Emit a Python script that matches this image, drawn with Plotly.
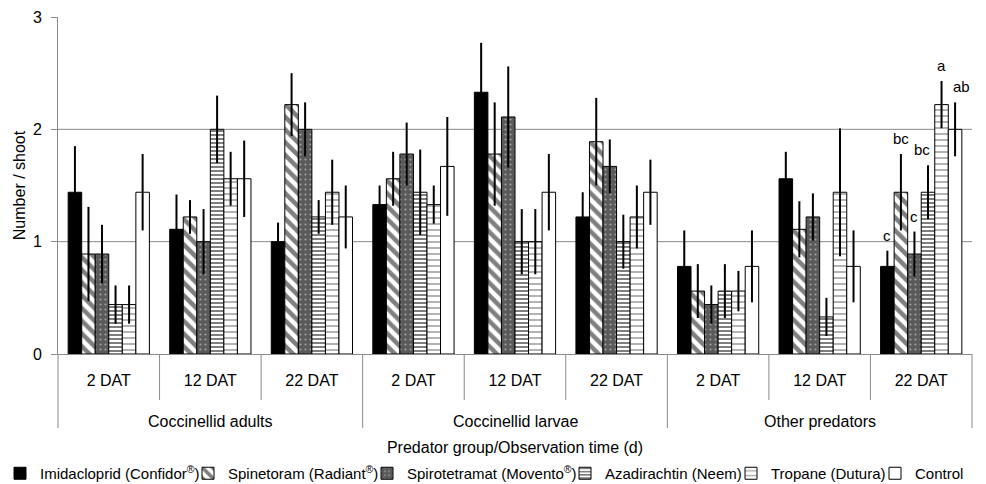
import plotly.graph_objects as go

# ---------------- data ----------------
groups = ["Coccinellid adults", "Coccinellid larvae", "Other predators"]
times = ["2 DAT", "12 DAT", "22 DAT"]

series_names = [
    "Imidacloprid (Confidor<sup>®</sup>)",
    "Spinetoram (Radiant<sup>®</sup>)",
    "Spirotetramat (Movento<sup>®</sup>)",
    "Azadirachtin (Neem)",
    "Tropane (Dutura)",
    "Control",
]

imidacloprid = [1.44, 1.11, 1.00, 1.33, 2.33, 1.22, 0.78, 1.56, 0.78]
spinetoram = [0.89, 1.22, 2.22, 1.56, 1.78, 1.89, 0.56, 1.11, 1.44]
spirotetramat = [0.89, 1.00, 2.00, 1.78, 2.11, 1.67, 0.44, 1.22, 0.89]
azadirachtin = [0.44, 2.00, 1.22, 1.44, 1.00, 1.00, 0.56, 0.33, 1.44]
tropane = [0.44, 1.56, 1.44, 1.33, 1.00, 1.22, 0.56, 1.44, 2.22]
control = [1.44, 1.56, 1.22, 1.67, 1.44, 1.44, 0.78, 0.78, 2.00]

imidacloprid_err = [0.41, 0.31, 0.17, 0.17, 0.44, 0.22, 0.32, 0.24, 0.14]
spinetoram_err = [0.42, 0.15, 0.28, 0.24, 0.46, 0.39, 0.24, 0.25, 0.34]
spirotetramat_err = [0.26, 0.29, 0.24, 0.28, 0.45, 0.24, 0.17, 0.21, 0.20]
azadirachtin_err = [0.17, 0.30, 0.15, 0.38, 0.29, 0.24, 0.24, 0.17, 0.24]
tropane_err = [0.17, 0.24, 0.29, 0.17, 0.29, 0.28, 0.18, 0.57, 0.21]
control_err = [0.34, 0.34, 0.28, 0.44, 0.34, 0.29, 0.32, 0.32, 0.24]

# significance letters for "Other predators / 22 DAT"
letters_group = ("Other predators", "22 DAT")
letters = ["c", "bc", "c", "bc", "a", "ab"]

y_ticks = [0, 1, 2, 3]

# ---------------- styling ----------------
FONT = "Liberation Sans, Arial, sans-serif"
GRAY = "#8a8a8a"

means = [imidacloprid, spinetoram, spirotetramat, azadirachtin, tropane, control]
errs = [imidacloprid_err, spinetoram_err, spirotetramat_err, azadirachtin_err, tropane_err, control_err]

styles = [
    dict(color="black", pattern=dict(shape="")),
    dict(color="white", pattern=dict(shape="\\", fgcolor="black", bgcolor="white", size=9, solidity=0.5)),
    dict(color="#5a5a5a", pattern=dict(shape=".", fgcolor="#e6e6e6", bgcolor="#5a5a5a", size=5, solidity=0.15)),
    dict(color="white", pattern=dict(shape="-", fgcolor="black", bgcolor="white", size=4, solidity=0.5)),
    dict(color="white", pattern=dict(shape="-", fgcolor="#555555", bgcolor="white", size=6, solidity=0.3)),
    dict(color="white", pattern=dict(shape="")),
]
legend_widths = [143, 134, 153, 121, 99, 50]
letter_xshift = [0, 0, 0, -6, 0, 6]

# category positions
cats = [(g, t) for g in groups for t in times]
xpos = list(range(len(cats)))
ticktext = [t for g, t in cats]

fig = go.Figure()
for name, m, e, st, lw in zip(series_names, means, errs, styles, legend_widths):
    fig.add_trace(go.Bar(
        x=xpos, y=m, name=name,
        marker=dict(color=st["color"], pattern=st["pattern"], line=dict(color="black", width=1)),
        error_y=dict(type="data", array=e, color="black", thickness=2, width=0),
        legendwidth=lw,
    ))

# significance letters
n_series = len(series_names)
bargap = 0.2
bw = (1 - bargap) / n_series
gx = cats.index(letters_group)
for k, lab in enumerate(letters):
    fig.add_annotation(
        x=gx + (k - (n_series - 1) / 2) * bw, y=means[k][gx] + errs[k][gx],
        text=lab, showarrow=False, yanchor="bottom", yshift=5, xshift=letter_xshift[k],
        font=dict(family=FONT, size=15, color="black"),
    )

# gridlines at 1 and 2
for yv in y_ticks[1:-1]:
    fig.add_shape(type="line", xref="paper", yref="y", x0=0, x1=1, y0=yv, y1=yv,
                  line=dict(color=GRAY, width=1), layer="below")

# category dividers below axis
plot_h = 484 - 17 - 130
plot_w = 986 - 58 - 14
n = len(cats)
for k in range(n + 1):
    outer = (k % len(times) == 0)
    depth = (428 - 354) / plot_h if outer else (400 - 354) / plot_h
    fig.add_shape(type="line", xref="paper", yref="paper", x0=k / n, x1=k / n, y0=0, y1=-depth,
                  line=dict(color=GRAY, width=1))

# outer group labels
for gi, g in enumerate(groups):
    fig.add_annotation(
        x=gi * len(times) + (len(times) - 1) / 2, xref="x", y=-(421 - 354) / plot_h, yref="paper",
        text=g, showarrow=False, yanchor="middle",
        font=dict(family=FONT, size=16, color="black"),
    )

fig.update_layout(
    width=986, height=484,
    margin=dict(l=58, r=14, t=17, b=130, autoexpand=False),
    paper_bgcolor="white", plot_bgcolor="white",
    barmode="group", bargap=bargap, bargroupgap=0,
    font=dict(family=FONT, size=16, color="black"),
    showlegend=True,
    legend=dict(
        orientation="h", x=-(58 - 0) / plot_w, xanchor="left", y=-(457 - 354) / plot_h, yanchor="top",
        font=dict(family=FONT, size=15, color="black"), bgcolor="rgba(0,0,0,0)",
        itemwidth=30, tracegroupgap=0,
    ),
    xaxis=dict(
        range=[-0.5, n - 0.5], tickvals=xpos, ticktext=ticktext, ticks="",
        ticklabelstandoff=12, showline=True, linecolor=GRAY, linewidth=1, automargin=False,
        showgrid=False, zeroline=False, tickfont=dict(family=FONT, size=16, color="black"),
        title=dict(text="Predator group/Observation time (d)", standoff=53,
                   font=dict(family=FONT, size=16, color="black")),
    ),
    yaxis=dict(
        range=[0, 3], tickvals=y_ticks, ticks="outside", ticklen=6, tickcolor=GRAY,
        ticklabelstandoff=6, showline=True, linecolor=GRAY, linewidth=1, automargin=False,
        showgrid=False, zeroline=False, tickfont=dict(family=FONT, size=16, color="black"),
        title=dict(text="Number / shoot", standoff=3, font=dict(family=FONT, size=16, color="black")),
    ),
)

fig.write_html("out.html", config={"displayModeBar": False},
               post_script="document.body.style.margin='0';")
